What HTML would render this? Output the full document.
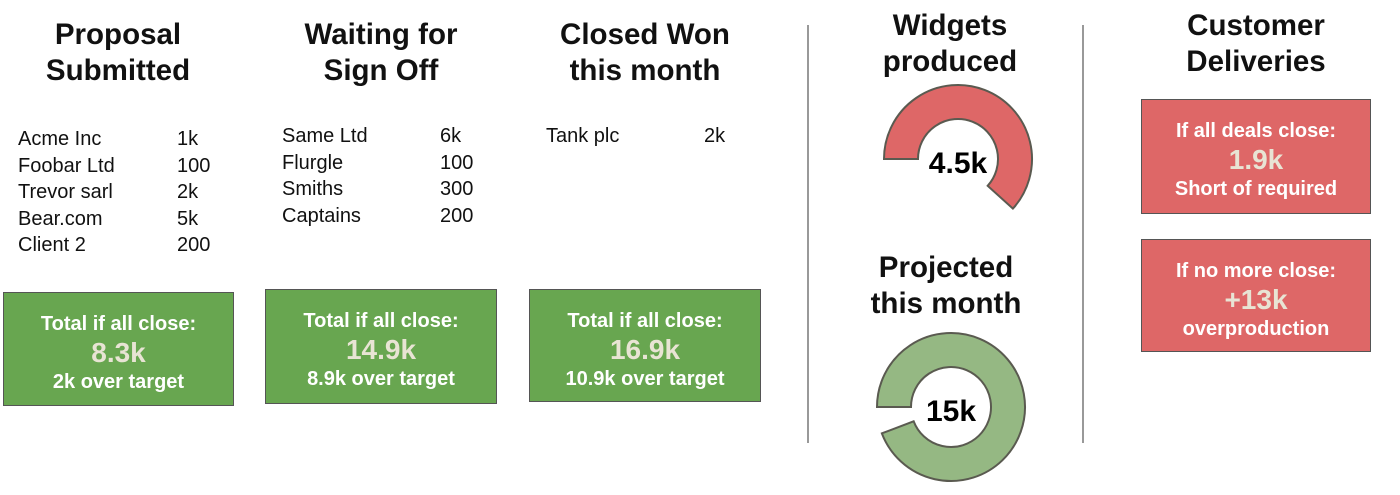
<!DOCTYPE html>
<html><head><meta charset="utf-8"><style>
body{margin:0;width:1400px;height:495px;background:#fff;position:relative;overflow:hidden;font-family:"Liberation Sans",sans-serif;color:#111}
.a{position:absolute}
.h{position:absolute;font-weight:bold;font-size:29.5px;line-height:36px;text-align:center;color:#111}
.row{position:absolute;font-size:20px;line-height:26.5px}
.box{position:absolute;border:1px solid #555;text-align:center;font-weight:bold;color:#fff;box-sizing:border-box}
.g{background:#68a650}.r{background:#de6767}
.box .l1{font-size:20px;margin-top:19px;line-height:24px}
.box .v{font-size:28px;color:#e8e4d4;line-height:34px}
.box .l3{font-size:20px;line-height:24px}
.div{position:absolute;width:2px;background:#999}
</style></head><body>
<div class="h" style="left:0;top:17px;width:236px">Proposal<br>Submitted</div>
<div class="h" style="left:264px;top:17px;width:234px">Waiting for<br>Sign Off</div>
<div class="h" style="left:528px;top:17px;width:234px">Closed Won<br>this month</div>
<div class="h" style="left:840px;top:8px;width:220px">Widgets<br>produced</div>
<div class="h" style="left:840px;top:250px;width:212px">Projected<br>this month</div>
<div class="h" style="left:1140px;top:8px;width:232px">Customer<br>Deliveries</div>

<div class="row" style="left:18px;top:126px">
<div>Acme Inc<span class="a" style="left:159px">1k</span></div>
<div>Foobar Ltd<span class="a" style="left:159px">100</span></div>
<div>Trevor sarl<span class="a" style="left:159px">2k</span></div>
<div>Bear.com<span class="a" style="left:159px">5k</span></div>
<div>Client 2<span class="a" style="left:159px">200</span></div>
</div>
<div class="row" style="left:282px;top:123px">
<div>Same Ltd<span class="a" style="left:158px">6k</span></div>
<div>Flurgle<span class="a" style="left:158px">100</span></div>
<div>Smiths<span class="a" style="left:158px">300</span></div>
<div>Captains<span class="a" style="left:158px">200</span></div>
</div>
<div class="row" style="left:546px;top:123px">
<div>Tank plc<span class="a" style="left:158px">2k</span></div>
</div>

<div class="box g" style="left:3px;top:292px;width:231px;height:114px"><div class="l1">Total if all close:</div><div class="v">8.3k</div><div class="l3">2k over target</div></div>
<div class="box g" style="left:265px;top:289px;width:232px;height:115px"><div class="l1">Total if all close:</div><div class="v">14.9k</div><div class="l3">8.9k over target</div></div>
<div class="box g" style="left:529px;top:289px;width:232px;height:113px"><div class="l1">Total if all close:</div><div class="v">16.9k</div><div class="l3">10.9k over target</div></div>

<div class="box r" style="left:1141px;top:99px;width:230px;height:115px"><div class="l1">If all deals close:</div><div class="v">1.9k</div><div class="l3">Short of required</div></div>
<div class="box r" style="left:1141px;top:239px;width:230px;height:113px"><div class="l1">If no more close:</div><div class="v">+13k</div><div class="l3">overproduction</div></div>

<div class="div" style="left:807px;top:25px;height:418px"></div>
<div class="div" style="left:1082px;top:25px;height:418px"></div>

<svg class="a" style="left:0;top:0" width="1400" height="495" id="sv"></svg>
<script>
const gaugeLabels=["4.5k","15k"];
const gaugeFractions=[0.617,0.942];
const gaugeColors=["#de6767","#95b883"];
const centers=[[958,159],[951,407]];
const sv=document.getElementById('sv');
const NS="http://www.w3.org/2000/svg";
function pt(cx,cy,r,a){return [cx+r*Math.cos(a),cy+r*Math.sin(a)];}
gaugeFractions.forEach((f,i)=>{
 const [cx,cy]=centers[i],R=74,r=40;
 const a0=Math.PI,a1=Math.PI+f*2*Math.PI;
 const large=f>0.5?1:0;
 const p1=pt(cx,cy,R,a0),p2=pt(cx,cy,R,a1),p3=pt(cx,cy,r,a1),p4=pt(cx,cy,r,a0);
 const p=document.createElementNS(NS,'path');
 p.setAttribute('d',`M${p1} A${R},${R} 0 ${large} 1 ${p2} L${p3} A${r},${r} 0 ${large} 0 ${p4} Z`);
 p.setAttribute('fill',gaugeColors[i]);p.setAttribute('stroke','#5a5a50');p.setAttribute('stroke-width','2');
 
 
 sv.appendChild(p);
 const t=document.createElementNS(NS,'text');
 t.setAttribute('x',cx);t.setAttribute('y',cy+14);t.setAttribute('text-anchor','middle');
 t.setAttribute('font-family','Liberation Sans, sans-serif');t.setAttribute('font-weight','bold');t.setAttribute('font-size','30');
 t.textContent=gaugeLabels[i];
 
 
 sv.appendChild(t);
});
</script>
</body></html>
